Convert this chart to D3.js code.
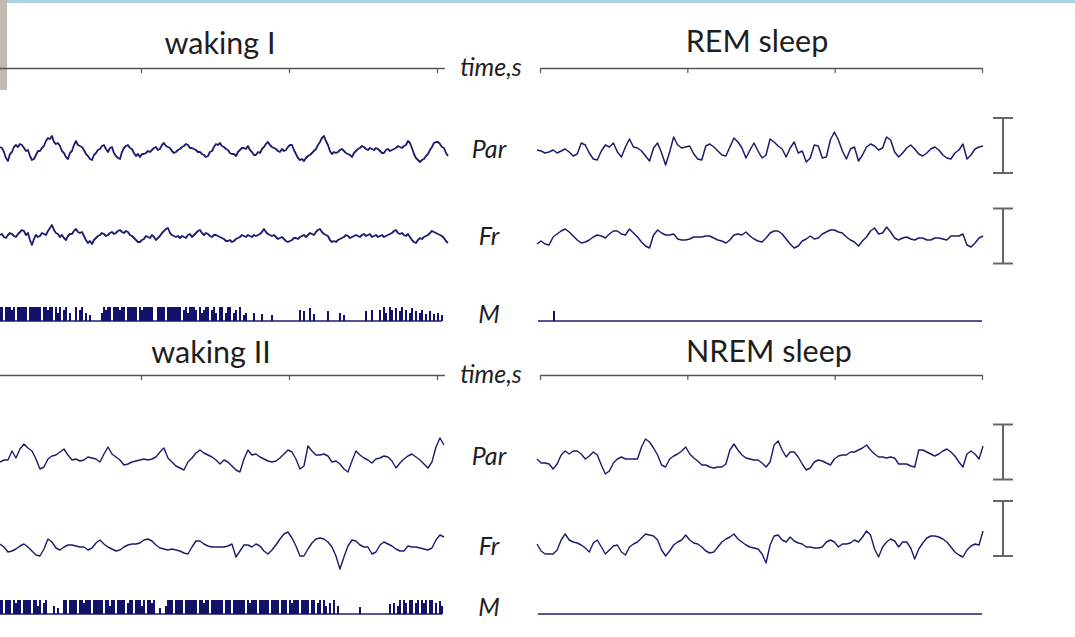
<!DOCTYPE html>
<html>
<head>
<meta charset="utf-8">
<title>EEG and motor activity: waking and sleep</title>
<script src="https://cdn.jsdelivr.net/npm/d3@7"></script>
<style>
  body { margin: 0; background: #fff; }
  text { font-family: Lato, "Open Sans", sans-serif; fill: #1e1e1e; }
</style>
</head>
<body>
<div id="container"></div>
<script>
  // Panel names, channel names, time ticks (s)
  const states = ["waking I", "REM sleep", "waking II", "NREM sleep"];
  const channels = ["Par", "Fr", "M"];
  const axisTicks = [0, 1, 2, 3];
  const axisLabel = "time,s";
  const scaleBarSize = 55; // amplitude of the calibration bar, in trace units

  // Time span (s) covered by each recording
  const spanWakingI = [0.047, 3.074];
  const spanWakingII = [0.047, 3.047];
  const spanMWaking = [0.047, 3.034];
  const spanSleep = [-0.02, 3.007];
  const spanMSleep = [-0.014, 3.0];

  // Parietal EEG
  const parWakingI = [3,2, -2,-8, -11,-4, -2,3, 5,3, 6,5, 2,-1, 0,-6, -10,-9, -5,-1,
    -1,2, 4,9, 12,11, 14,8, 6,7, 4,-1, -3,-7, -9,-3, -1,5, 9,5,
    4,3, 0,-4, -6,-9, -10,-5, -3,0, 1,4, 5,1, -2,2, 3,-3, -6,-8,
    -9,-2, 2,4, 5,2, 1,-3, -6,-4, -7,-4, -4,-3, -1,-2, 0,2, 3,0,
    1,5, 7,4, 3,2, -1,-3, -2,0, 1,3, 4,6, 5,2, 2,1, 0,-2,
    -2,-4, -5,-7, -6,-2, -1,3, 6,5, 7,4, 3,1, 0,-3, -4,-4, -6,-2,
    0,2, 2,1, 4,0, -2,-5, -5,-2, -3,1, 3,6, 8,5, 3,2, 1,-1,
    -2,1, -1,0, 3,5, 5,0, -4,-8, -10,-9, -11,-8, -6,-5, -3,-1, 1,5,
    8,12, 14,9, 5,-1, -4,-2, -3,-2, 0,1, -1,-3, -4,-5, -7,-3, -1,1,
    2,4, 3,1, 0,2, 1,0, 2,1, -1,-3, -3,0, 1,-1, 0,1, 2,4,
    3,2, 4,5, 9,7, 2,-4, -8,-10, -12,-10, -9,-6, -4,0, 3,7, 8,8,
    6,3, 2,-3, -6];
  const parREM = [0,-1,-3,-2,0,-3,-1,1,-2,-6,-4,7,5,-3,-9,-10,-1,5,3,7,-2,-7,3,11,3,2,-1,-6,-11,2,
    7,-3,-15,-2,13,5,2,3,4,-4,-9,-10,4,6,3,-1,-5,-6,3,12,8,2,-8,0,7,-1,-8,-5,11,8,
    4,1,-7,2,8,-3,-1,-12,-8,5,4,-8,-7,10,18,10,-1,-9,1,3,-11,-5,3,6,4,0,2,13,10,-2,
    -7,-3,2,5,1,-4,-6,-3,1,3,0,-5,-8,-9,-3,0,6,-9,-5,1,3,4];
  const parWakingII = [-5,-3,-3,6,-1,8,13,9,6,-2,-12,-10,-2,1,2,5,8,2,-3,-2,-4,-3,0,-1,-2,-5,3,10,3,0,
    -3,-8,-7,-5,-4,-3,-2,-3,-2,0,5,9,-1,-5,-9,-11,-13,-5,-1,4,7,4,2,0,-3,-7,-3,-5,-9,-13,
    -15,-2,7,2,3,0,-2,-4,-5,-4,-1,3,7,5,-2,-12,-9,11,6,2,2,3,1,-5,-4,-7,-12,-15,-4,6,
    2,-1,-3,-6,-2,-1,1,0,-4,-11,-6,-2,1,3,0,-3,-7,-11,-5,10,19,12];
  const parNREM = [-2,-6,-6,-7,-12,-7,2,6,3,6,6,3,-2,1,5,2,-8,-17,-14,-6,-2,0,-2,-2,-2,-2,10,18,15,9,
    2,-8,-10,-2,1,3,6,10,3,-1,-4,-8,-8,-10,-11,-10,-10,-7,7,13,7,2,-1,-2,-3,-3,-6,-10,-5,12,
    16,7,0,5,5,0,-7,-13,-11,-5,-3,-4,-6,-8,-2,1,2,2,5,5,7,9,12,7,3,0,0,-1,0,-1,
    -7,-7,-7,-9,-10,7,7,5,3,1,3,6,8,5,1,-5,-10,3,6,3,-2,11];

  // Frontal EEG
  const frWakingI = [2,3, 0,-1, 2,4, 3,1, 0,3, 5,7, 6,2, 4,-3, -8,-2, 2,0,
    1,4, 3,2, 6,9, 12,7, 4,3, 0,2, -1,-3, 1,3, 3,6, 8,5,
    4,5, 1,-3, -6,-4, -7,-3, -1,1, 2,4, 3,1, 2,4, 5,3, 4,6,
    7,5, 4,6, 5,2, 1,-1, -3,-5, -5,-3, -2,1, 0,-1, 2,0, -3,-1,
    1,4, 6,8, 9,4, 2,1, 0,1, -1,1, 0,-1, 2,3, 0,2, 4,6,
    7,4, 2,4, 3,1, 0,2, 2,1, 0,-1, -2,-4, -4,-3, -5,-4, -2,-1,
    0,2, 1,0, 2,1, 0,2, 1,2, 3,5, 8,5, 3,2, 1,2, 0,-2,
    -1,0, -2,-4, -5,-4, -3,-1, -1,-2, 0,1, 2,0, 2,4, 3,2, 5,7,
    8,5, 3,2, 1,-3, -5,-4, -5,-3, -2,-1, 0,2, 1,-1, 0,1, 2,1,
    0,2, 3,1, 2,3, 0,1, 2,0, 1,2, 0,1, 2,3, 4,6, 7,4,
    3,4, 2,1, 3,0, -3,-5, -6,-3, -1,-2, 0,1, 2,4, 6,5, 4,3,
    2,1, -1,-4, -6];
  const frREM = [-7,-4,-7,-8,0,3,6,8,5,1,-3,-6,-5,-3,0,2,1,-1,3,6,6,3,2,8,4,0,-5,-9,-11,2,
    7,4,2,2,3,-2,-3,-3,-2,0,0,0,1,1,-1,-3,-4,-6,-3,2,3,2,5,1,-2,-4,-5,-1,4,6,
    6,3,-2,-7,-11,-9,-4,-2,1,-2,-1,3,5,7,7,5,4,0,-3,-5,-9,-4,0,6,9,3,4,10,5,-1,
    -3,-1,0,-2,-3,-1,-1,-3,-3,-1,-1,-2,-3,1,1,1,3,-8,-10,-6,-1,1];
  const frWakingII = [3,0,-5,-4,-2,1,3,0,-4,-8,-9,-2,8,5,-1,-3,0,2,2,1,0,0,-3,-1,4,7,3,0,-2,-4,
    -3,0,2,3,3,4,7,8,6,2,-1,-2,-3,-2,-3,-4,-6,-7,0,6,6,3,1,0,0,0,0,1,3,-10,
    -4,2,2,0,3,1,-4,-7,-3,2,8,13,15,9,1,-9,-9,-2,4,8,9,8,5,0,-9,-22,-10,1,7,6,
    2,0,0,-7,-5,2,5,3,1,-2,-4,-4,1,0,0,-1,-2,-3,-1,7,12,10];
  const frNREM = [3,-4,-7,-7,-7,-3,7,13,7,5,4,2,-1,-5,4,7,0,-7,-3,1,2,-5,-8,0,3,5,9,13,12,11,
    7,-3,-9,-4,2,5,7,12,7,4,3,0,-4,-6,-5,0,5,8,10,13,8,5,2,0,-1,-2,-7,-16,2,11,
    12,7,5,10,6,4,3,0,0,-1,-1,0,5,7,5,0,3,3,4,7,5,10,16,12,-2,-10,0,5,8,6,
    0,5,5,-1,-12,-2,4,9,11,11,10,8,5,0,-5,-8,-10,-3,1,3,2,16];

  // Motor activity (spike height, 0-10)
  const mWakingI = [10,10,0,10,10,10,8,10,0,10,10,10,10,10,0,10,10,10,10,10,10,0,10,10,8,10,10,0,10,6,10,0,8,10,0,6,
    0,0,10,0,8,10,0,6,0,4,0,0,0,0,0,
    6,10,8,10,10,0,10,10,10,8,10,10,0,10,10,10,10,10,0,10,8,10,10,10,10,10,0,0,10,10,
    10,10,0,10,10,10,10,10,10,10,0,8,10,6,10,10,10,8,0,10,6,8,10,10,0,8,10,6,0,10,
    10,0,6,10,10,0,6,8,0,10,0,4,6,
    0,0,0,6,0,0,0,5,0,0,0,0,4,0,0,0,0,0,0,0,0,0,0,0,0,0,
    8,0,7,0,0,9,0,5,0,0,
    0,0,0,0,7,0,0,0,0,0,6,0,4,0,0,0,0,0,0,0,0,0,0,
    7,0,0,8,0,0,0,
    8,0,10,6,0,10,8,0,9,0,7,10,0,8,0,6,9,0,7,0,6,8,0,5,0,7,0,5,0,6,0,4];
  const mREM = [0,0,7,0,0,0,0,0,0,0,0,0,0,0,0,0,0,0,0,0,0,0,0,0,0,0,0,0,0,
    0,0,0,0,0,0,0,0,0,0,0,0,0,0,0,0,0,0,0,0,0,0,0,0,0,0,0,0];
  const mWakingII = [10,10,0,10,10,10,0,10,8,10,10,0,10,10,10,10,0,10,10,6,10,0,8,10,0,
    0,0,6,0,4,0,0,
    10,10,0,10,10,10,10,0,10,10,8,10,10,10,0,10,10,10,10,10,0,10,10,6,10,10,0,10,10,10,
    10,0,8,10,10,0,10,10,10,6,10,0,10,10,8,10,0,
    0,4,0,0,6,
    10,10,10,0,10,10,10,10,0,10,10,10,10,10,10,0,10,10,8,10,10,0,10,10,10,10,10,10,0,10,
    10,10,0,10,10,10,10,10,10,0,10,8,10,10,10,0,10,10,10,10,10,0,10,10,10,10,0,10,10,10,
    0,10,8,10,10,10,0,10,10,10,10,0,10,10,0,8,10,0,10,6,0,8,0,10,0,6,0,
    0,0,0,0,0,0,0,0,0,5,0,0,0,0,0,0,0,0,0,0,0,0,0,0,
    7,0,8,0,6,10,0,10,8,0,10,10,0,8,10,0,10,8,10,0,10,10,0,8,0,9,6];
  const mNREM = [0,0,0,0,0,0,0,0,0,0,0,0,0,0,0,0,0,0,0,0,0,0,0,0,0,0,0,0,0,
    0,0,0,0,0,0,0,0,0,0,0,0,0,0,0,0,0,0,0,0,0,0,0,0,0,0,0,0];

  // Chart dimensions
  const width = 1075;
  const height = 637;
  const traceColor = "#1c1c6c";
  const axisColor = "#555";
  const blocks = [
    { axisY: 68, parY: 150, frY: 237, mY: 321, titleY: [54, 52] },
    { axisY: 375, parY: 457, frY: 547, mY: 614, titleY: [363, 362] }
  ];

  // Time scales: left panel is partly cut off by the image edge
  const xLeft = d3.scaleLinear().domain([0, 3.05]).range([-7, 444.4]);
  const xRight = d3.scaleLinear().domain([0, 3]).range([540, 982]);

  const panels = [
    { title: states[0], block: 0, x: xLeft, titleX: 220, par: parWakingI, fr: frWakingI, m: mWakingI, span: spanWakingI, mSpan: spanMWaking, lw: 1.8 },
    { title: states[1], block: 0, x: xRight, titleX: 757, par: parREM, fr: frREM, m: mREM, span: spanSleep, mSpan: spanMSleep, lw: 1.5, bars: [4.5, 1] },
    { title: states[2], block: 1, x: xLeft, titleX: 211, par: parWakingII, fr: frWakingII, m: mWakingII, span: spanWakingII, mSpan: spanMWaking, lw: 1.4 },
    { title: states[3], block: 1, x: xRight, titleX: 769, par: parNREM, fr: frNREM, m: mNREM, span: spanSleep, mSpan: spanMSleep, lw: 1.4, bars: [5, 18.5] }
  ];

  const svg = d3.create("svg")
      .attr("width", width)
      .attr("height", height)
      .style("display", "block");

  svg.append("rect").attr("width", width).attr("height", height).attr("fill", "#fff");
  // slide decoration: blue strip on top, gray edge on the left
  svg.append("rect").attr("width", width).attr("height", 3).attr("fill", "#a9d2e3");
  svg.append("rect").attr("width", 7).attr("height", 90).attr("fill", "#c3b9b1");

  const ampScale = cy => d3.scaleLinear().domain([-30, 30]).range([cy + 30, cy - 30]);

  function drawTrace(values, span, x, cy, lw) {
    const y = ampScale(cy);
    const step = (span[1] - span[0]) / (values.length - 1);
    const line = d3.line()
        .x((d, i) => x(span[0] + i * step))
        .y(d => y(d));
    svg.append("path")
        .datum(values)
        .attr("d", line)
        .attr("fill", "none")
        .attr("stroke", traceColor)
        .attr("stroke-width", lw)
        .attr("stroke-linejoin", "round");
  }

  function drawMotor(values, span, x, base) {
    const y = d3.scaleLinear().domain([0, 10]).range([base, base - 14]);
    const step = (span[1] - span[0]) / (values.length - 1);
    svg.append("line")
        .attr("x1", x(span[0])).attr("x2", x(span[1]))
        .attr("y1", y(0)).attr("y2", y(0))
        .attr("stroke", traceColor)
        .attr("stroke-width", 1.4);
    svg.append("g")
        .attr("shape-rendering", "crispEdges")
        .selectAll("line")
        .data(values.map((v, i) => [span[0] + i * step, v]).filter(d => d[1] > 0))
        .enter().append("line")
        .attr("x1", d => x(d[0])).attr("x2", d => x(d[0]))
        .attr("y1", y(0)).attr("y2", d => y(d[1]))
        .attr("stroke", "#12126a")
        .attr("stroke-width", 1.6);
  }

  panels.forEach(p => {
    const b = blocks[p.block];

    // time axis
    const axis = svg.append("g")
        .attr("transform", `translate(0,${b.axisY})`)
        .call(d3.axisBottom(p.x).tickValues(axisTicks).tickSize(5).tickSizeOuter(0).tickFormat(""));
    axis.select(".domain").attr("stroke", axisColor).attr("stroke-width", 1.5);
    axis.selectAll(".tick line").attr("stroke", axisColor).attr("stroke-width", 1.2);

    svg.append("text")
        .attr("x", p.titleX)
        .attr("y", b.titleY[p.x === xLeft ? 0 : 1])
        .attr("text-anchor", "middle")
        .attr("font-size", 30.5)
        .text(p.title);

    drawTrace(p.par, p.span, p.x, b.parY, p.lw);
    drawTrace(p.fr, p.span, p.x, b.frY, p.lw);
    drawMotor(p.m, p.mSpan, p.x, b.mY);

    // calibration bars on the sleep panels
    if (p.bars) {
      [b.parY, b.frY].forEach((cy, k) => {
        const y = ampScale(cy);
        const top = y(p.bars[k] + scaleBarSize / 2);
        const bot = y(p.bars[k] - scaleBarSize / 2);
        const g = svg.append("g").attr("stroke", "#666").attr("stroke-width", 2);
        g.append("line").attr("x1", 1003).attr("x2", 1003).attr("y1", top).attr("y2", bot);
        g.append("line").attr("x1", 993).attr("x2", 1013).attr("y1", top).attr("y2", top);
        g.append("line").attr("x1", 993).attr("x2", 1013).attr("y1", bot).attr("y2", bot);
      });
    }
  });

  // labels in the gap between the panels
  blocks.forEach(b => {
    svg.append("text")
        .attr("x", 491).attr("y", b.axisY + 8)
        .attr("text-anchor", "middle")
        .attr("font-size", 25)
        .attr("font-style", "italic")
        .attr("fill", "#2a2a2a")
        .text(axisLabel);
    [b.parY, b.frY, b.mY - 6].forEach((cy, i) => {
      svg.append("text")
          .attr("x", 489).attr("y", cy + 8)
          .attr("text-anchor", "middle")
          .attr("font-size", 25)
          .attr("font-style", "italic")
          .attr("fill", "#2a2a2a")
          .text(channels[i]);
    });
  });

  document.getElementById("container").append(svg.node());
</script>
</body>
</html>
